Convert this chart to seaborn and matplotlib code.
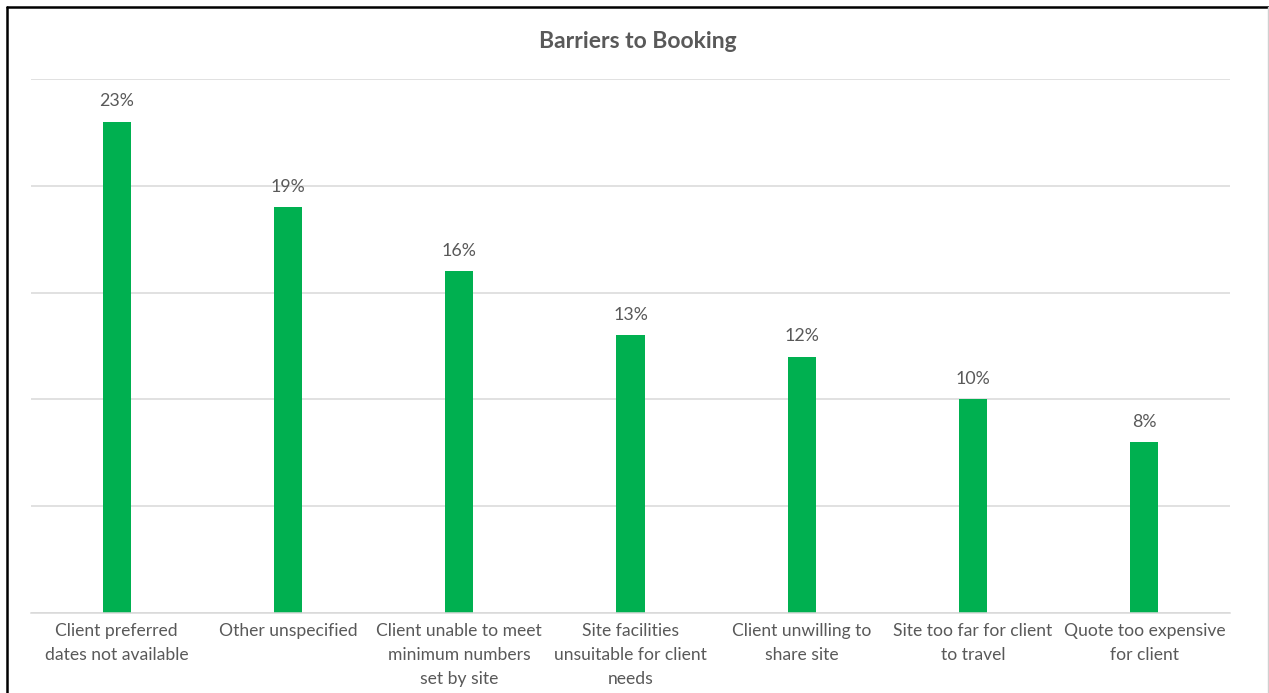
import matplotlib
matplotlib.use("Agg")
import matplotlib.pyplot as plt
from matplotlib.lines import Line2D
import seaborn as sns
import pandas as pd

categories = [
    "Client preferred\ndates not available",
    "Other unspecified",
    "Client unable to meet\nminimum numbers\nset by site",
    "Site facilities\nunsuitable for client\nneeds",
    "Client unwilling to\nshare site",
    "Site too far for client\nto travel",
    "Quote too expensive\nfor client",
]
shares = [23, 19, 16, 13, 12, 10, 8]
title = "Barriers to Booking"

df = pd.DataFrame({"barrier": categories, "share": shares})

sns.set_theme(style="white")
plt.rcParams["font.family"] = ["Lato", "DejaVu Sans"]

W, H = 1269, 693
fig = plt.figure(figsize=(W / 100, H / 100), dpi=100)
ax = fig.add_axes([31 / W, 1 - 613 / H, (1230 - 31) / W, (613 - 79) / H])

text_grey = "#595959"
bar_green = "#00B050"

sns.barplot(data=df, x="barrier", y="share", color=bar_green, width=0.165,
            saturation=1, ax=ax, edgecolor="none")

ax.set_ylim(0, 25)
ax.set_xlim(-0.5, len(categories) - 0.5)
ax.set_yticks(range(0, 26, 5))
ax.set_yticklabels([])
ax.tick_params(axis="y", length=0)
ax.tick_params(axis="x", length=0, pad=7, labelsize=12.6, labelcolor=text_grey)
for lbl in ax.get_xticklabels():
    lbl.set_linespacing(1.62)
ax.grid(axis="y", color="#D9D9D9", linewidth=1.1)
ax.set_axisbelow(True)
for side in ["left", "right", "top"]:
    ax.spines[side].set_visible(False)
ax.spines["bottom"].set_color("#D9D9D9")
ax.spines["bottom"].set_linewidth(1.1)
ax.set_xlabel("")
ax.set_ylabel("")

for container in ax.containers:
    ax.bar_label(container, fmt="%.0f%%", padding=9, fontsize=12.8,
                 color=text_grey)

fig.text(638 / W, 1 - 41 / H, title, ha="center", va="center",
         fontsize=16.5, fontweight="bold", color=text_grey)

# chart frame
fig.add_artist(Line2D([7 / W, 7 / W], [0, 1 - 7 / H], color="black",
                      linewidth=1.8, transform=fig.transFigure))
fig.add_artist(Line2D([7 / W, 1], [1 - 7 / H, 1 - 7 / H], color="black",
                      linewidth=1.8, transform=fig.transFigure))
fig.add_artist(Line2D([1268 / W, 1268 / W], [0, 1 - 7 / H], color="#D0D0D0",
                      linewidth=1.0, transform=fig.transFigure))

fig.savefig("out.png", dpi=100)
